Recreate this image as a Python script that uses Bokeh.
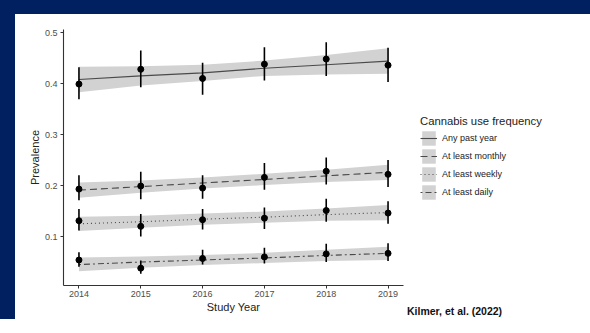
from bokeh.plotting import figure
from bokeh.models import FixedTicker, Legend, LegendItem, Range1d, LinearAxis
from bokeh.embed import file_html
from bokeh.resources import INLINE

years = [2014, 2015, 2016, 2017, 2018, 2019]
series_names = ["Any past year", "At least monthly", "At least weekly", "At least daily"]

any_est = [0.399, 0.428, 0.410, 0.438, 0.448, 0.436]
any_lo = [0.369, 0.393, 0.378, 0.406, 0.415, 0.403]
any_hi = [0.432, 0.465, 0.441, 0.471, 0.481, 0.470]
any_fit = [0.408, 0.415, 0.421, 0.430, 0.437, 0.444]
any_band_lo = [0.383, 0.396, 0.405, 0.415, 0.418, 0.419]
any_band_hi = [0.433, 0.434, 0.437, 0.445, 0.456, 0.469]

monthly_est = [0.193, 0.199, 0.195, 0.216, 0.228, 0.222]
monthly_lo = [0.171, 0.173, 0.174, 0.192, 0.202, 0.197]
monthly_hi = [0.220, 0.227, 0.220, 0.244, 0.255, 0.250]
monthly_fit = [0.191, 0.198, 0.205, 0.212, 0.219, 0.226]
monthly_band_lo = [0.176, 0.186, 0.194, 0.201, 0.207, 0.211]
monthly_band_hi = [0.206, 0.210, 0.216, 0.223, 0.231, 0.241]

weekly_est = [0.131, 0.120, 0.133, 0.136, 0.151, 0.146]
weekly_lo = [0.112, 0.100, 0.114, 0.115, 0.129, 0.125]
weekly_hi = [0.154, 0.144, 0.154, 0.157, 0.174, 0.169]
weekly_fit = [0.125, 0.129, 0.134, 0.138, 0.143, 0.147]
weekly_band_lo = [0.111, 0.117, 0.123, 0.127, 0.131, 0.132]
weekly_band_hi = [0.139, 0.141, 0.145, 0.149, 0.155, 0.162]

daily_est = [0.054, 0.038, 0.057, 0.060, 0.066, 0.067]
daily_lo = [0.041, 0.027, 0.045, 0.047, 0.050, 0.052]
daily_hi = [0.069, 0.053, 0.074, 0.078, 0.086, 0.087]
daily_fit = [0.045, 0.050, 0.054, 0.058, 0.063, 0.067]
daily_band_lo = [0.032, 0.039, 0.044, 0.048, 0.052, 0.054]
daily_band_hi = [0.059, 0.061, 0.064, 0.068, 0.074, 0.080]

y_ticks = [0.1, 0.2, 0.3, 0.4, 0.5]
y_tick_labels = {0.1: "0.1", 0.2: "0.2", 0.3: "0.3", 0.4: "0.4", 0.5: "0.5"}
credit_text = "Kilmer, et al. (2022)"

FONT = "Liberation Sans"
NAVY = "#002060"
BAND = "#d2d2d2"
LINE = "#4a4a4a"

p = figure(frame_width=340, frame_height=256,
           x_range=Range1d(2013.75, 2019.25), y_range=Range1d(0.004, 0.506),
           output_backend="svg", toolbar_location=None,
           min_border_left=63, min_border_right=171, min_border_top=29, min_border_bottom=32,
           styles={"background-color": "white",
                   "box-shadow": "inset 15px 14px 0 0 #002060"})
p.background_fill_color = "white"
p.border_fill_color = None
p.outline_line_color = None
p.xgrid.visible = False
p.ygrid.visible = False

series = [
    (any_est, any_lo, any_hi, any_fit, any_band_lo, any_band_hi, None),
    (monthly_est, monthly_lo, monthly_hi, monthly_fit, monthly_band_lo, monthly_band_hi, "7 4"),
    (weekly_est, weekly_lo, weekly_hi, weekly_fit, weekly_band_lo, weekly_band_hi, "1 3"),
    (daily_est, daily_lo, daily_hi, daily_fit, daily_band_lo, daily_band_hi, "2 3 6 3"),
]

items = []
for name, (est, lo, hi, fit, blo, bhi, dash) in zip(series_names, series):
    band = p.varea(x=years, y1=blo, y2=bhi, fill_color=BAND, fill_alpha=1.0)
    if dash is None:
        line = p.line(x=years, y=fit, line_color=LINE, line_width=1.1)
    else:
        line = p.line(x=years, y=fit, line_color=LINE, line_width=1.1, line_dash=dash)
    items.append(LegendItem(label=name, renderers=[band, line]))

for name, (est, lo, hi, fit, blo, bhi, dash) in zip(series_names, series):
    p.segment(x0=years, y0=lo, x1=years, y1=hi, line_color="black", line_width=1.6)
    p.scatter(x=years, y=est, size=6, fill_color="black", line_color="black", marker="circle")

for ax in (p.xaxis[0], p.yaxis[0]):
    ax.axis_line_color = "#333333"
    ax.axis_line_width = 1.1
    ax.major_tick_line_color = "#333333"
    ax.major_tick_in = 0
    ax.major_tick_out = 3
    ax.minor_tick_line_color = None
    ax.major_label_text_font = FONT
    ax.major_label_text_font_size = "9px"
    ax.major_label_text_color = "#4d4d4d"
    ax.axis_label_text_font = FONT
    ax.axis_label_text_font_size = "11px"
    ax.axis_label_text_font_style = "normal"
    ax.axis_label_text_color = "#222222"

p.xaxis.ticker = FixedTicker(ticks=years)
p.xaxis.major_label_standoff = 2
p.xaxis.axis_label = "Study Year"
p.xaxis.axis_label_standoff = 1
p.yaxis.ticker = FixedTicker(ticks=y_ticks)
p.yaxis.major_label_overrides = y_tick_labels
p.yaxis.major_label_standoff = 3
p.yaxis.axis_label = "Prevalence"
p.yaxis.axis_label_standoff = 1

# credit text: the single (left-padded) tick label of an extra, invisible bottom axis,
# its tick sitting at the right end of the plot area
pad = "\u00a0" * 35
p.extra_x_ranges = {"credit": Range1d(0, 1)}
credit_axis = LinearAxis(x_range_name="credit", ticker=FixedTicker(ticks=[1]),
                         major_label_overrides={1: pad + credit_text},
                         axis_line_color=None, major_tick_line_color=None,
                         minor_tick_line_color=None, major_tick_out=0, major_tick_in=0,
                         major_label_standoff=-11,
                         major_label_text_font=FONT, major_label_text_font_size="10.5px",
                         major_label_text_font_style="bold", major_label_text_color="#111111")
p.add_layout(credit_axis, "below")

legend = Legend(items=items, location=(17, 84),
                title="Cannabis use frequency",
                title_text_font=FONT, title_text_font_size="11.3px",
                title_text_font_style="normal", title_text_color="#222222",
                title_standoff=2,
                label_text_font=FONT, label_text_font_size="9px", label_text_color="#222222",
                glyph_width=17, glyph_height=18, label_height=18, spacing=0,
                label_standoff=5, padding=0, margin=17,
                border_line_color=None, background_fill_alpha=0)
p.add_layout(legend, "right")

open("out.html", "w").write(file_html(p, INLINE))
